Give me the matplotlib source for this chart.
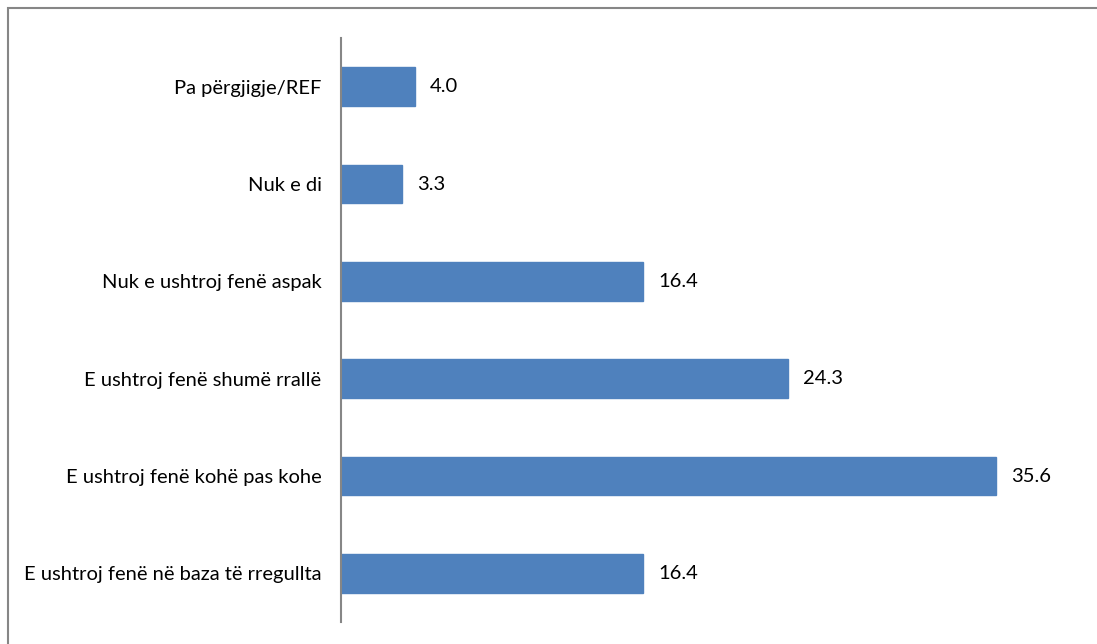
import matplotlib
matplotlib.use("Agg")
import matplotlib.pyplot as plt
from matplotlib.patches import Rectangle

categories = [
    "E ushtroj fenë në baza të rregullta",
    "E ushtroj fenë kohë pas kohe",
    "E ushtroj fenë shumë rrallë",
    "Nuk e ushtroj fenë aspak",
    "Nuk e di",
    "Pa përgjigje/REF",
]
values = [16.4, 35.6, 24.3, 16.4, 3.3, 4.0]

plt.rcParams['font.family'] = ['Lato', 'DejaVu Sans']

fig = plt.figure(figsize=(10.97, 6.44), dpi=100)
fig.patches.append(Rectangle((8/1097, -0.1), 1.2, 1 - 8/644 + 0.1, transform=fig.transFigure,
                             fill=False, edgecolor='#868686', linewidth=1.5))
ax = fig.add_axes([341/1097, 1 - 622/644, (1077 - 341)/1097, (622 - 38)/644])

y = list(range(len(categories)))
bars = ax.barh(y, values, height=0.4, color='#4F81BD', edgecolor='#4F81BD')
ax.set_xlim(0, 40)
ax.set_ylim(-0.5, len(categories) - 0.5)
ax.set_yticks(y)
ax.set_yticklabels(categories, fontsize=14.5, color='#000000')
ax.tick_params(axis='y', length=0, pad=14)
ax.set_xticks([])
for s in ['top', 'right', 'bottom']:
    ax.spines[s].set_visible(False)
ax.spines['left'].set_color('#868686')
ax.spines['left'].set_linewidth(1.5)

for b, v in zip(bars, values):
    ax.annotate(f"{v:.1f}", (b.get_width(), b.get_y() + b.get_height() / 2),
                xytext=(11, 0), textcoords='offset points', va='center', ha='left',
                fontsize=14.5, color='#000000')

fig.savefig("out.png", dpi=100)
